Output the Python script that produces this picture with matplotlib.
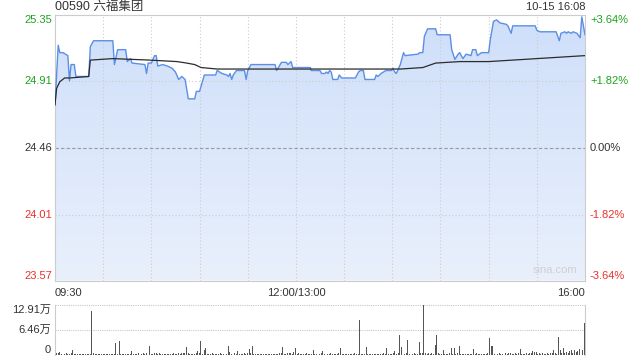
import numpy as np
import matplotlib
matplotlib.use("Agg")
import matplotlib.pyplot as plt
from matplotlib.patches import Polygon

plt.rcParams['font.family'] = ['Liberation Sans', 'Noto Sans CJK SC', 'DejaVu Sans']

title = "00590 六福集团"
stamp = "10-15 16:08"
prev_close = 24.46

# price line: minutes after 09:30 (lunch break removed), price
price_t = [0, 2, 3, 5, 8, 9, 10, 12, 13, 21, 22, 24, 36, 37, 39, 44, 45, 47, 48, 56,
           57, 58, 60, 62, 63, 64, 67, 70, 73, 75, 77, 79, 81, 83, 87, 88, 90, 93, 100, 101,
           104, 107, 108, 109, 110, 111, 113, 118, 119, 120, 122, 137, 138, 141, 144, 145, 147, 148, 159, 159.5,
           165, 166, 168, 169, 170, 171, 172, 173, 176, 177, 178.5, 187, 189, 190, 192, 193, 199, 200, 201, 202,
           203, 206, 209.5, 210.5, 211.5, 212.5, 215, 217, 218, 226, 227, 229, 230, 232, 237, 238, 246, 247, 249, 251,
           252, 254, 256, 259, 260, 262, 263, 265.5, 270, 271, 273, 275, 277, 281, 282, 284, 285, 299, 300, 302,
           312, 314, 315, 317.5, 318.5, 319.5, 321.5, 322.5, 325, 327, 328, 330]
price_v = [24.75, 25.15, 25.10, 25.10, 25.08, 24.91, 25.02, 25.02, 24.94, 24.94, 25.14, 25.18, 25.18, 25.02, 25.12, 25.12, 25.04, 25.06, 25.03, 25.02,
           24.96, 25.03, 25.03, 25.08, 25.08, 25.01, 25.02, 25.01, 24.995, 24.97, 24.92, 24.94, 24.92, 24.79, 24.79, 24.84, 24.84, 24.95, 24.95, 24.98,
           24.96, 24.95, 24.94, 24.96, 24.92, 24.95, 24.98, 24.98, 24.92, 24.98, 25.02, 25.02, 24.98, 25.035, 25.035, 25.02, 25.04, 25.00, 25.00, 24.98,
           24.98, 24.96, 24.96, 24.97, 24.96, 24.98, 24.97, 24.92, 24.92, 24.95, 24.93, 24.93, 24.97, 24.98, 24.98, 24.92, 24.92, 24.95, 24.94, 24.95,
           24.96, 24.98, 24.98, 24.995, 24.97, 24.96, 25.02, 25.10, 25.08, 25.09, 25.10, 25.10, 25.21, 25.26, 25.26, 25.22, 25.22, 25.12, 25.055, 25.09,
           25.10, 25.06, 25.09, 25.08, 25.12, 25.12, 25.08, 25.10, 25.10, 25.185, 25.31, 25.32, 25.30, 25.29, 25.28, 25.23, 25.28, 25.28, 25.25, 25.24,
           25.24, 25.18, 25.23, 25.24, 25.23, 25.24, 25.23, 25.24, 25.23, 25.20, 25.34, 25.22]

# average price line
avg_t = [0, 1, 3, 6, 9, 21, 22, 36, 59, 76, 82, 87, 91, 101, 168, 215, 229, 237, 252, 270, 330]
avg_v = [24.75, 24.86, 24.905, 24.93, 24.93, 24.94, 25.05, 25.06, 25.05, 25.04, 25.03, 25.02, 25.00, 24.99, 24.99,
         24.99, 25.00, 25.03, 25.04, 25.04, 25.08]

# volume per minute, in 万
volume = [
    0.86, 0.5, 0.6, 0.7, 0.3, 0.4, 0.2, 0.5, 0.3, 0.3,
    0.4, 1.3, 0.3, 0.2, 0.3, 0.2, 0.3, 0.2, 0.3, 0.2,
    0.3, 0.2, 0.3, 11.45, 0.5, 0.3, 0.2, 0.3, 0.2, 0.2,
    0.3, 0.2, 0.2, 0.3, 0.2, 0.3, 0.2, 0.3, 3.2, 0.3,
    3.7, 0.3, 0.2, 0.2, 0.3, 0.2, 0.3, 0.2, 1.0, 0.3,
    0.2, 0.3, 0.5, 0.3, 0.2, 0.4, 0.3, 0.6, 0.3, 2.4,
    0.3, 0.2, 0.4, 0.6, 0.3, 0.4, 0.3, 0.2, 0.3, 0.2,
    0.3, 0.2, 0.3, 0.2, 0.4, 0.3, 0.2, 0.5, 0.3, 0.6,
    0.4, 0.6, 2.15, 0.4, 0.2, 0.3, 0.2, 0.3, 0.6, 1.0,
    0.4, 3.7, 0.3, 1.3, 1.7, 0.3, 0.2, 0.3, 0.4, 0.2,
    0.3, 0.2, 0.3, 0.5, 0.2, 0.3, 0.2, 0.3, 2.4, 0.8,
    0.3, 0.2, 0.4, 0.3, 1.0, 0.3, 0.2, 0.3, 0.4, 0.3,
    0.5, 1.5, 0.4, 2.3, 0.3, 0.2, 0.3, 0.2, 0.3, 0.2,
    0.3, 0.2, 0.3, 0.2, 0.3, 0.2, 0.3, 0.2, 0.2, 0.3,
    0.4, 0.6, 2.1, 0.3, 0.2, 0.5, 0.4, 0.6, 0.3, 0.8,
    1.8, 0.3, 0.4, 0.2, 0.3, 0.2, 0.3, 0.5, 0.2, 0.3,
    0.3, 1.3, 0.3, 0.2, 0.3, 0.2, 0.4, 1.0, 0.3, 0.2,
    0.3, 0.2, 0.5, 0.3, 0.2, 0.3, 0.2, 0.4, 1.7, 0.3,
    0.2, 0.3, 0.2, 0.3, 0.2, 0.3, 0.2, 0.4, 0.3, 0.2,
    9.04, 0.3, 0.2, 0.3, 2.1, 0.3, 0.2, 0.3, 0.2, 0.3,
    0.2, 0.3, 0.2, 0.3, 0.2, 0.4, 0.3, 1.7, 0.3, 0.2,
    0.3, 0.6, 1.0, 0.3, 0.4, 5.2, 2.15, 4.3, 0.3, 0.4,
    3.9, 0.3, 0.2, 0.3, 0.4, 0.3, 0.2, 3.4, 0.5, 0.4,
    12.91, 0.5, 0.3, 0.4, 0.3, 0.5, 0.3, 2.6, 5.2, 0.4,
    0.3, 0.2, 1.3, 0.3, 0.2, 0.3, 0.4, 1.7, 0.3, 1.7,
    0.3, 0.4, 2.3, 0.3, 0.2, 0.3, 0.2, 0.3, 0.2, 0.3,
    0.2, 1.5, 0.3, 0.6, 0.2, 0.3, 0.2, 0.3, 0.2, 0.3,
    0.5, 4.3, 2.3, 2.3, 0.3, 0.4, 0.3, 0.6, 0.3, 0.2,
    0.5, 0.4, 0.3, 0.6, 0.4, 0.3, 0.2, 0.4, 0.3, 0.5,
    1.5, 0.3, 0.2, 0.3, 0.5, 0.3, 0.6, 0.4, 1.0, 0.8,
    0.7, 0.3, 0.4, 0.3, 0.5, 0.3, 0.2, 0.4, 0.3, 0.6,
    0.4, 1.3, 0.5, 0.3, 4.65, 1.3, 0.6, 1.7, 0.4, 0.8,
    0.6, 1.0, 1.3, 0.5, 1.3, 0.7, 1.0, 1.5, 0.9, 1.2,
    8.35,
]

price_ticks = [25.35, 24.91, 24.46, 24.01, 23.57]
pct_labels = ["+3.64%", "+1.82%", "0.00%", "-1.82%", "-3.64%"]
tick_colors = ["#1aa31a", "#1aa31a", "#333333", "#e8312a", "#e8312a"]
time_pos = [0, 150, 330]
time_labels = ["09:30", "12:00/13:00", "16:00"]
vol_ticks = [12.91, 6.46, 0]
vol_labels = ["12.91万", "6.46万", "0"]

W, H = 640, 360
fig = plt.figure(figsize=(6.4, 3.6), dpi=100)

def box(x0, y0, x1, y1):
    # pixel box (top-left origin) -> figure fraction rect
    return [x0 / W, 1 - y1 / H, (x1 - x0) / W, (y1 - y0) / H]

ax = fig.add_axes(box(55, 15.4, 585, 280.6))
axv = fig.add_axes(box(55, 305, 585, 355))

ymin, ymax = price_ticks[-1], price_ticks[0]
ax.set_xlim(0, 330)
ax.set_ylim(ymin, ymax)

# gradient fill under price line
poly = Polygon(list(zip(price_t, price_v)) + [(price_t[-1], ymin), (price_t[0], ymin)],
               closed=True, facecolor="none", edgecolor="none")
ax.add_patch(poly)
grad = np.linspace(0, 1, 256).reshape(-1, 1)
cmap = matplotlib.colors.LinearSegmentedColormap.from_list("fill", ["#e9f0fc", "#cfdffa"])
im = ax.imshow(grad, cmap=cmap, aspect="auto", origin="lower",
               extent=[0, 330, ymin, ymax], zorder=1)
im.set_clip_path(poly)

ax.plot(price_t, price_v, color="#5b8fe6", lw=1.0, zorder=3)
ax.plot(avg_t, avg_v, color="#2b2b2b", lw=0.9, zorder=4)

for t in range(30, 330, 30):
    ax.axvline(t, color="#cccccc", lw=0.8, ls=(0, (1, 2)), zorder=2)
for v in price_ticks[1:-1]:
    if v == prev_close:
        ax.axhline(v, color="#9a9a9a", lw=0.8, ls=(0, (3, 2)), zorder=2)
    else:
        ax.axhline(v, color="#cccccc", lw=0.8, ls=(0, (1, 2)), zorder=2)

for s in ax.spines.values():
    s.set_color("#cccccc")
    s.set_linewidth(0.8)
ax.set_xticks([])
ax.set_yticks([])

for i, (v, lab, c) in enumerate(zip(price_ticks, pct_labels, tick_colors)):
    va = "top" if i == 0 else ("bottom" if i == len(price_ticks) - 1 else "center")
    ax.text(-3 / 530 * 330, v, f"{v:.2f}", color=c, fontsize=8, ha="right", va=va)
    ax.text(330 + 5 / 530 * 330, v, lab, color=c, fontsize=8, ha="left", va=va)

for t, lab in zip(time_pos, time_labels):
    ha = "left" if t == 0 else ("right" if t == 330 else "center")
    fig.text((55 + t / 330 * 530) / W, 1 - 293 / H, lab, fontsize=8, color="#333333",
             ha=ha, va="center")

ax.text(0.985, 0.02, "sina.com", transform=ax.transAxes, fontsize=8, color="#d0d0d0",
        ha="right", va="bottom")

fig.text(55 / W, 1 - 7 / H, title, fontsize=9, color="#333333", ha="left", va="center")
fig.text(585 / W, 1 - 7 / H, stamp, fontsize=8, color="#333333", ha="right", va="center")

# volume panel
axv.bar(np.arange(len(volume)), volume, width=0.6, color="#555555", zorder=3)
axv.set_xlim(0, 330.5)
axv.set_ylim(0, vol_ticks[0])
axv.axhline(vol_ticks[0], color="#c8c8c8", lw=0.8, ls=(0, (1, 1)), zorder=2, clip_on=False)
axv.axhline(vol_ticks[1], color="#c8c8c8", lw=0.8, ls=(0, (1, 1)), zorder=2)
for k in ["top", "bottom"]:
    axv.spines[k].set_visible(False)
for k in ["left", "right"]:
    axv.spines[k].set_color("#cccccc")
    axv.spines[k].set_linewidth(0.8)
axv.set_xticks([])
axv.set_yticks([])
for i, (v, lab) in enumerate(zip(vol_ticks, vol_labels)):
    va = "top" if i == 0 else ("bottom" if i == len(vol_ticks) - 1 else "center")
    axv.text(-4 / 530 * 330, v, lab, fontsize=8, color="#333333", ha="right", va=va)

fig.savefig("out.png", dpi=100)
